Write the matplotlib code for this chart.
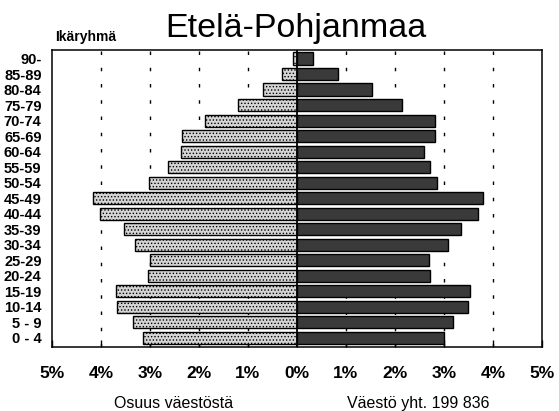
import matplotlib
matplotlib.use("Agg")
import matplotlib.pyplot as plt
import numpy as np

plt.rcParams['font.family'] = ['Liberation Sans', 'DejaVu Sans']
plt.rcParams['hatch.linewidth'] = 0.6

age_groups = ["0 - 4", "5 - 9", "10-14", "15-19", "20-24", "25-29", "30-34", "35-39",
              "40-44", "45-49", "50-54", "55-59", "60-64", "65-69", "70-74", "75-79",
              "80-84", "85-89", "90-"]
left_share = [3.14, 3.35, 3.67, 3.69, 3.05, 2.99, 3.30, 3.54, 4.03, 4.16, 3.03, 2.63,
              2.36, 2.35, 1.88, 1.20, 0.69, 0.31, 0.08]
right_share = [3.01, 3.18, 3.49, 3.54, 2.72, 2.69, 3.08, 3.35, 3.69, 3.80, 2.85, 2.71,
               2.59, 2.82, 2.82, 2.14, 1.54, 0.83, 0.32]
x_ticks = [-5, -4, -3, -2, -1, 0, 1, 2, 3, 4, 5]
x_tick_labels = ["5%", "4%", "3%", "2%", "1%", "0%", "1%", "2%", "3%", "4%", "5%"]

fig = plt.figure(figsize=(5.59, 4.11), dpi=100)
ax = fig.add_axes([52/559, 1-347/411, 490/559, 297/411])

y = np.arange(len(age_groups))
ax.barh(y, [-v for v in left_share], height=0.78, color='#d4d4d4', edgecolor='black',
        linewidth=1.0, hatch='.....', zorder=3)
ax.barh(y, right_share, height=0.78, color='#3a3a3a', edgecolor='black',
        linewidth=1.0, zorder=3)

for xv in [-4, -3, -2, -1, 1, 2, 3, 4]:
    ax.axvline(xv, color='black', linewidth=1.0, linestyle=(0, (2.5, 9.2)), zorder=1)
ax.axvline(0, color='black', linewidth=1.3, zorder=4)

ax.set_xlim(-5, 5)
ax.set_ylim(-0.6, len(age_groups) - 0.45)
ax.set_xticks(x_ticks)
ax.set_xticklabels(x_tick_labels, fontsize=12.5, fontweight='bold')
ax.set_yticks(y)
ax.set_yticklabels(age_groups, fontsize=10.5, fontweight='bold')
ax.tick_params(axis='y', length=0, pad=7.5)
ax.tick_params(axis='x', length=5, width=1, pad=14, direction='in')
for s in ax.spines.values():
    s.set_linewidth(1.1)

fig.text(295.5/559, 1-37/411, "Etelä-Pohjanmaa", fontsize=24.5, ha='center', va='baseline')
fig.text(55/559, 1-41/411, "Ikäryhmä", fontsize=10, fontweight='bold', ha='left', va='baseline')
fig.text(174/559, 1-408/411, "Osuus väestöstä", fontsize=11.5, ha='center', va='baseline')
fig.text(418.5/559, 1-408/411, "Väestö yht. 199 836", fontsize=11.5, ha='center', va='baseline')

fig.savefig("out.png", dpi=100)
